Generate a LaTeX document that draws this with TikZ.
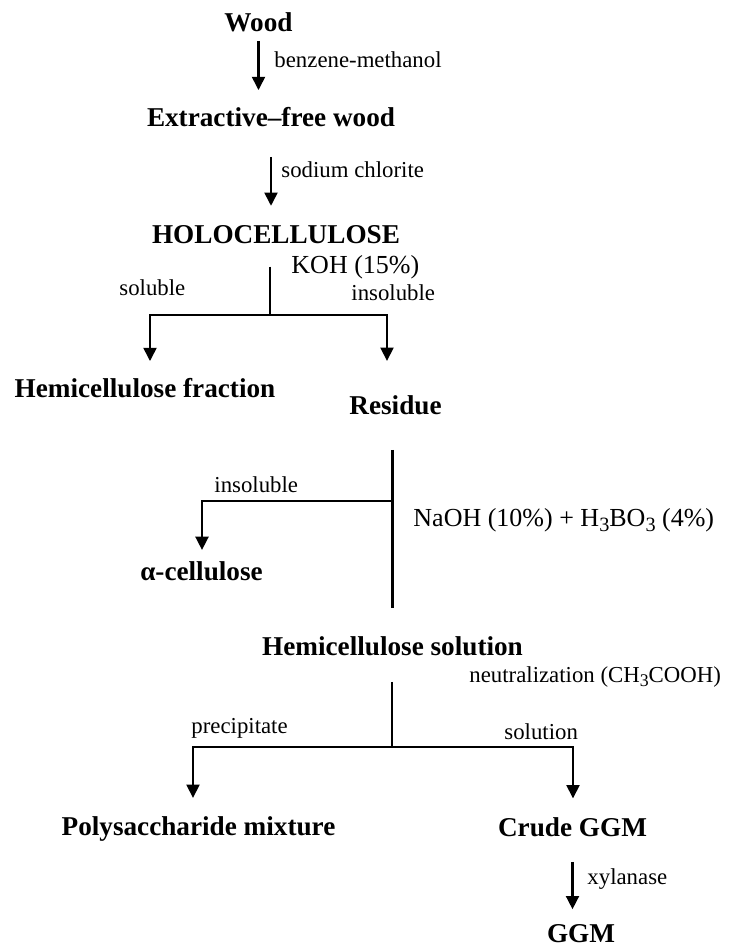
\documentclass[tikz,border=0pt]{standalone}
\usepackage{fontspec}
\setmainfont{Liberation Serif}
\usetikzlibrary{arrows.meta}

\newcommand{\lowsub}[1]{\raisebox{-0.42ex}{\scalebox{0.78}{#1}}}

\tikzset{every picture/.style={line width=2.2pt}}
\tikzset{
	stage/.style={inner sep=0pt, anchor=base, font=\fontsize{20.4}{24}\selectfont\bfseries},
	cond/.style={inner sep=0pt, anchor=base west, font=\fontsize{17.1}{20}\selectfont},
	reagent/.style={inner sep=0pt, anchor=base west, font=\fontsize{19.5}{23}\selectfont},
	flow/.style={-{Triangle[width=9.5pt,length=10pt]}},
}

\begin{document}
\begin{tikzpicture}[x=0.75pt,y=0.75pt,yscale=-1,xscale=1]
	\path (0,0) rectangle (736,947); %set diagram to the full page

	% Text Node
	\node (wood) [stage] at (258.5,31) {Wood};
	% Text Node
	\node (efw) [stage] at (271,126) {Extractive--free wood};
	% Text Node
	\node (holo) [stage] at (276,243) {HOLOCELLULOSE};
	% Text Node
	\node (hemifrac) [stage] at (145,397) {Hemicellulose fraction};
	% Text Node
	\node (residue) [stage] at (395.5,414) {Residue};
	% Text Node
	\node (alpha) [stage] at (201.5,580) {α-cellulose};
	% Text Node
	\node (hemisol) [stage] at (392.5,655) {Hemicellulose solution};
	% Text Node
	\node (poly) [stage] at (198.5,835) {Polysaccharide mixture};
	% Text Node
	\node (crude) [stage] at (572.5,836) {Crude GGM};
	% Text Node
	\node (ggm) [stage] at (581,942) {GGM};

	% Text Node
	\node (benz) [cond] at (273,67) {benzene-methanol};
	% Text Node
	\node (chlorite) [cond] at (280,177) {sodium chlorite};
	% Text Node
	\node (koh) [reagent] at (290,273) {KOH (15\%)};
	% Text Node
	\node (sol) [cond] at (118,295) {soluble};
	% Text Node
	\node (insol) [cond] at (350,300) {insoluble};
	% Text Node
	\node (insolb) [cond] at (213,492) {insoluble};
	% Text Node
	\node (naoh) [reagent] at (412,526) {NaOH (10\%) + H\lowsub{3}BO\lowsub{3} (4\%)};
	% Text Node
	\node (neutr) [cond] at (468,682) {neutralization (CH\lowsub{3}COOH)};
	% Text Node
	\node (precip) [cond] at (190,733) {precipitate};
	% Text Node
	\node (soln) [cond] at (503,739) {solution};
	% Text Node
	\node (xyl) [cond] at (586,884) {xylanase};

	% Branch points
	\coordinate (j1) at (270,315);
	\coordinate (j1l) at (150,315);
	\coordinate (j1r) at (387,315);
	\coordinate (j2) at (392,501);
	\coordinate (j2l) at (202,501);
	\coordinate (j3) at (392,747);
	\coordinate (j3l) at (193,747);
	\coordinate (j3r) at (573,747);

	%Straight Lines
	\draw [flow, shorten <=6pt, shorten >=11.4pt] (wood.south) -- (wood.south |- efw.north);
	\draw [flow, shorten <=21.8pt, shorten >=13.2pt] (efw.south) -- (efw.south |- holo.north);
	%Straight Lines
	\draw [shorten <=16.5pt] (j1 |- holo.south) -- (j1);
	\draw [flow, shorten >=11.4pt] (j1) -- (j1l) -- (j1l |- hemifrac.north);
	\draw [flow, shorten >=24.5pt] (j1) -- (j1r) -- (j1r |- residue.north);
	%Straight Lines
	\draw [shorten <=25.5pt, shorten >=20pt] (hemisol.north |- residue.south) -- (hemisol.north);
	\draw [flow, shorten >=7.2pt] (j2) -- (j2l) -- (j2l |- alpha.north);
	%Straight Lines
	\draw [shorten <=18.8pt] (j3 |- hemisol.south) -- (j3);
	\draw [flow, shorten >=12.5pt] (j3) -- (j3l) -- (j3l |- poly.north);
	\draw [flow, shorten >=12.9pt] (j3) -- (j3r) -- (j3r |- crude.north);
	\draw [flow, shorten <=18pt, shorten >=9.9pt] (crude.south) -- (crude.south |- ggm.north);

\end{tikzpicture}
\end{document}
